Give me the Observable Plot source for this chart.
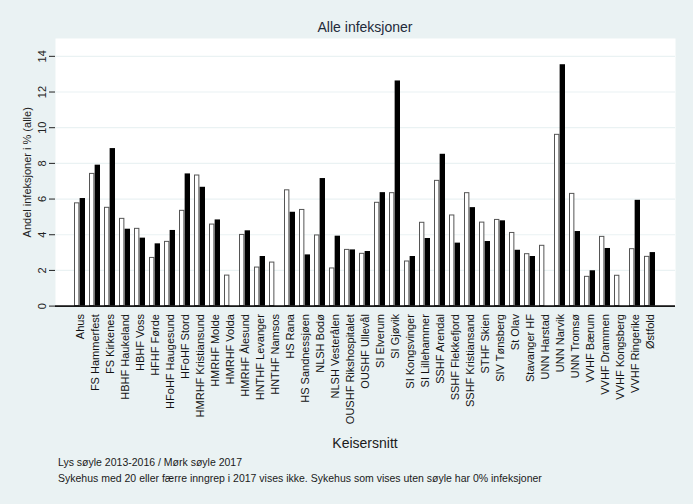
<!DOCTYPE html>
<html>
<head>
<meta charset="utf-8">
<script src="https://cdn.jsdelivr.net/npm/d3@7"></script>
<script src="https://cdn.jsdelivr.net/npm/@observablehq/plot@0.6"></script>
<style>
  html, body { margin: 0; padding: 0; background: #eaf2f3; }
  #wrap { position: relative; width: 693px; height: 504px; background: #eaf2f3; font-family: "Liberation Sans", Arial, sans-serif; overflow: hidden; }
  #chart { position: absolute; left: 0; top: 0; }
  .t { position: absolute; color: #1a1a1a; white-space: nowrap; }
  #title { top: 19px; left: 55px; width: 620px; text-align: center; font-size: 14px; color: #1e2a3a; }
  #xtitle { top: 435px; left: 55px; width: 620px; text-align: center; font-size: 14px; }
  #note1 { top: 456px; left: 58px; font-size: 10.5px; }
  #note2 { top: 472px; left: 58px; font-size: 10.5px; }
</style>
</head>
<body>
<div id="wrap">
  <div id="chart"></div>
  <div id="title" class="t"></div>
  <div id="xtitle" class="t"></div>
  <div id="note1" class="t"></div>
  <div id="note2" class="t"></div>
</div>
<script>
const titleText = "Alle infeksjoner";
const xTitle = "Keisersnitt";
const yTitle = "Andel infeksjoner i % (alle)";
const note1 = "Lys søyle 2013-2016 / Mørk søyle 2017";
const note2 = "Sykehus med 20 eller færre inngrep i 2017 vises ikke. Sykehus som vises uten søyle har 0% infeksjoner";

const hospitals = [
  "Ahus", "FS Hammerfest", "FS Kirkenes", "HBHF Haukeland", "HBHF Voss", "HFHF Førde",
  "HFoHF Haugesund", "HFoHF Stord", "HMRHF Kristiansund", "HMRHF Molde", "HMRHF Volda",
  "HMRHF Ålesund", "HNTHF Levanger", "HNTHF Namsos", "HS Rana", "HS Sandnessjøen",
  "NLSH Bodø", "NLSH Vesterålen", "OUSHF Rikshospitalet", "OUSHF Ullevål", "SI Elverum",
  "SI Gjøvik", "SI Kongsvinger", "SI Lillehammer", "SSHF Arendal", "SSHF Flekkefjord",
  "SSHF Kristiansand", "STHF Skien", "SIV Tønsberg", "St Olav", "Stavanger HF",
  "UNN Harstad", "UNN Narvik", "UNN Tromsø", "VVHF Bærum", "VVHF Drammen",
  "VVHF Kongsberg", "VVHF Ringerike", "Østfold"
];
// Light bars: 2013-2016
const val2013_2016 = [
  5.76, 7.41, 5.51, 4.89, 4.33, 2.70,
  3.60, 5.34, 7.32, 4.57, 1.71,
  3.99, 2.16, 2.44, 6.49, 5.39,
  3.96, 2.11, 3.15, 2.93, 5.79,
  6.33, 2.50, 4.67, 7.02, 5.08,
  6.33, 4.68, 4.83, 4.10, 2.91,
  3.38, 9.60, 6.29, 1.64, 3.88,
  1.70, 3.19, 2.76
];
// Dark bars: 2017
const val2017 = [
  6.03, 7.90, 8.83, 4.31, 3.81, 3.49,
  4.24, 7.41, 6.66, 4.83, 0,
  4.22, 2.78, 0, 5.26, 2.87,
  7.15, 3.92, 3.15, 3.06, 6.36,
  12.62, 2.78, 3.79, 8.51, 3.53,
  5.52, 3.62, 4.78, 3.13, 2.78,
  0, 13.53, 4.18, 1.98, 3.23,
  0, 5.93, 3.00
];
const yTicks = [0, 2, 4, 6, 8, 10, 12, 14];

const light = hospitals.map((h, i) => ({h, v: val2013_2016[i]}));
const dark = hospitals.map((h, i) => ({h, v: val2017[i]})).filter(d => d.v > 0);

const W = 693, H = 430;
const step = 620 / 41.25;
const half = step * 0.75 / 2;

const plot = Plot.plot({
  width: W,
  height: H,
  marginTop: 38,
  marginBottom: H - 305.6,
  marginLeft: 55,
  marginRight: 18,
  style: {background: "transparent", fontFamily: "'Liberation Sans', Arial, sans-serif"},
  x: {domain: hospitals, paddingInner: 0.25, paddingOuter: 1.225, axis: null},
  y: {domain: [0, 15], axis: null},
  marks: [
    Plot.frame({fill: "white", stroke: null}),
    Plot.ruleY(yTicks.filter(d => d > 0), {stroke: "#eaf2f3", strokeWidth: 1.2}),
    Plot.barY(light, {x: "h", y: "v", fill: "white", stroke: "#555", strokeWidth: 1, insetRight: half + 0.5, insetLeft: 0.5}),
    Plot.barY(dark, {x: "h", y: "v", fill: "black", insetLeft: half}),
    Plot.ruleY([0], {stroke: "black", strokeWidth: 1.2}),
    Plot.ruleX([0], {x: () => null, frameAnchor: "left"}),
    Plot.axisY({ticks: yTicks, tickSize: 6, tickFormat: () => "", stroke: "#222", label: null}),
    Plot.ruleY([0], {y1: 0, y2: 15, x: null}),
    Plot.text(yTicks, {y: d => d, text: d => String(d), frameAnchor: "left", dx: -13, rotate: -90, textAnchor: "middle", fontSize: 11, fill: "#222"}),
    Plot.text([yTitle], {text: d => d, frameAnchor: "left", dx: -28, rotate: -90, textAnchor: "middle", fontSize: 11, fill: "#222"}),
    Plot.text(hospitals, {x: d => d, text: d => d, frameAnchor: "bottom", dy: 8, rotate: -90, textAnchor: "end", lineAnchor: "middle", fontSize: 11, fill: "#111"})
  ]
});
document.getElementById("chart").appendChild(plot);
document.getElementById("title").textContent = titleText;
document.getElementById("xtitle").textContent = xTitle;
document.getElementById("note1").textContent = note1;
document.getElementById("note2").textContent = note2;
</script>
</body>
</html>
